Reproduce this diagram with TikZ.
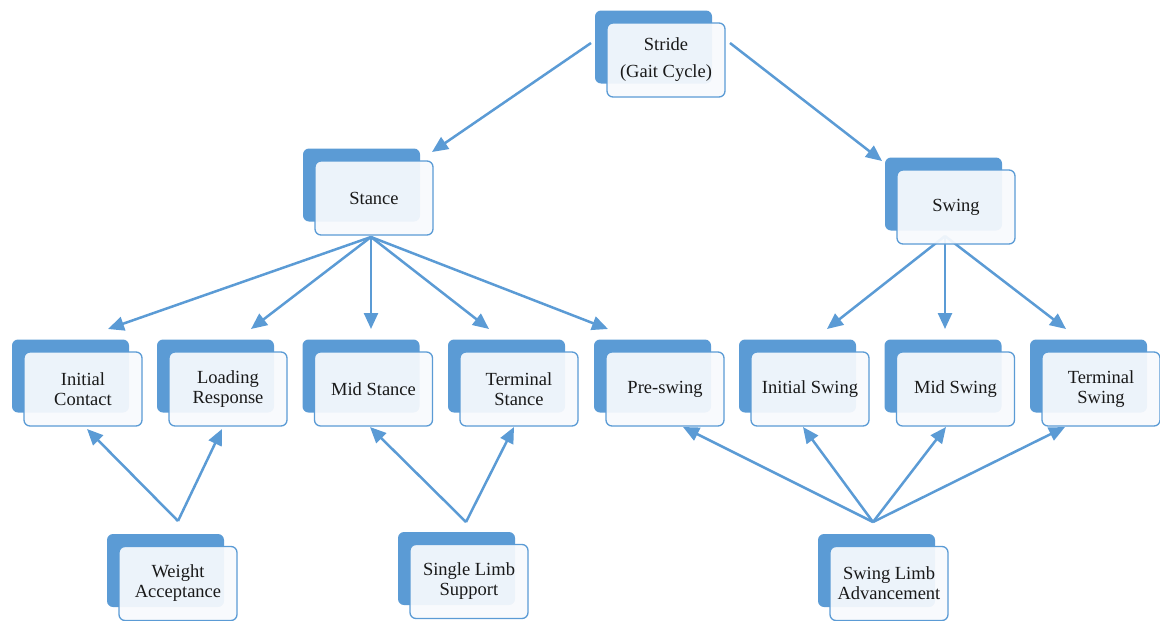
\documentclass[tikz,border=0pt]{standalone}
\usepackage{fontspec}
\setmainfont{Liberation Serif}
\usetikzlibrary{arrows.meta,backgrounds}
\definecolor{gblue}{HTML}{5B9BD5}
\definecolor{gfront}{HTML}{F8FAFD}
\tikzset{
 backbox/.style={fill=gblue, rounded corners=6pt, minimum width=117pt, minimum height=73pt, inner sep=0pt, draw=none},
 frontbox/.style={fill=gfront, fill opacity=0.93, text opacity=1, draw=gblue, line width=1.3pt, rounded corners=6pt, minimum width=118pt, minimum height=74pt, inner sep=0pt, align=center, font=\fontsize{18.5}{20}\selectfont, text=black!90},
 conn/.style={draw=gblue, line width=2.5pt, -{Triangle[length=16pt,width=14pt]}}
}
\newcommand\gnode[4]{%
 \node[backbox] (#1-b) at ({#2-12.5},{#3-13}) {};
 \node[frontbox] (#1) at (#2,#3) {#4};
}
\begin{document}
\begin{tikzpicture}[x=1pt,y=-1pt]
\useasboundingbox (0,0) rectangle (1160,621);
\gnode{stride}{666}{60}{Stride\\[7pt](Gait Cycle)}
\gnode{stance}{374}{198}{Stance}
\gnode{swing}{956}{207}{Swing}
\gnode{ic}{83}{389}{Initial\\Contact}
\gnode{lr}{228}{389}{Loading\\Response}
\gnode{ms}{373.5}{389}{Mid Stance}
\gnode{ts}{519}{389}{Terminal\\Stance}
\gnode{ps}{665}{389}{Pre-swing}
\gnode{is}{810}{389}{Initial Swing}
\gnode{msw}{955.5}{389}{Mid Swing}
\gnode{tsw}{1101}{389}{Terminal\\Swing}
\gnode{wa}{178}{583.5}{Weight\\Acceptance}
\gnode{sl}{469}{581.5}{Single Limb\\Support}
\gnode{sla}{889}{583.5}{Swing Limb\\Advancement}
% connector points
\coordinate (stride-l) at (591,43);
\coordinate (stride-r) at (730,43);
\coordinate (stance-in) at (432,152);
\coordinate (swing-in) at (882,161);
\coordinate (stance-out) at (371,237);
\coordinate (swing-out) at (945,236);
\coordinate (ic-in) at (108,329);
\coordinate (lr-in) at (251,329);
\coordinate (ms-in) at (371,329);
\coordinate (ts-in) at (489,329);
\coordinate (ps-in) at (608,329);
\coordinate (is-in) at (827,329);
\coordinate (msw-in) at (945,329);
\coordinate (tsw-in) at (1066,329);
\coordinate (wa-out) at (178,521);
\coordinate (sl-out) at (466,522);
\coordinate (sla-out) at (873,522);
\coordinate (ic-up) at (87,429);
\coordinate (lr-up) at (222,429);
\coordinate (ms-up) at (370,427);
\coordinate (ts-up) at (514,427);
\coordinate (ps-up) at (683,427);
\coordinate (is-up) at (803,427);
\coordinate (msw-up) at (946,427);
\coordinate (tsw-up) at (1065,427);
\begin{scope}[on background layer]
\draw[conn] (stride-l) -- (stance-in);
\draw[conn] (stride-r) -- (swing-in);
\foreach \t in {ic,lr,ms,ts,ps} \draw[conn] (stance-out) -- (\t-in);
\foreach \t in {is,msw,tsw} \draw[conn] (swing-out) -- (\t-in);
\foreach \t in {ic,lr} \draw[conn] (wa-out) -- (\t-up);
\foreach \t in {ms,ts} \draw[conn] (sl-out) -- (\t-up);
\foreach \t in {ps,is,msw,tsw} \draw[conn] (sla-out) -- (\t-up);
\end{scope}
\end{tikzpicture}
\end{document}
